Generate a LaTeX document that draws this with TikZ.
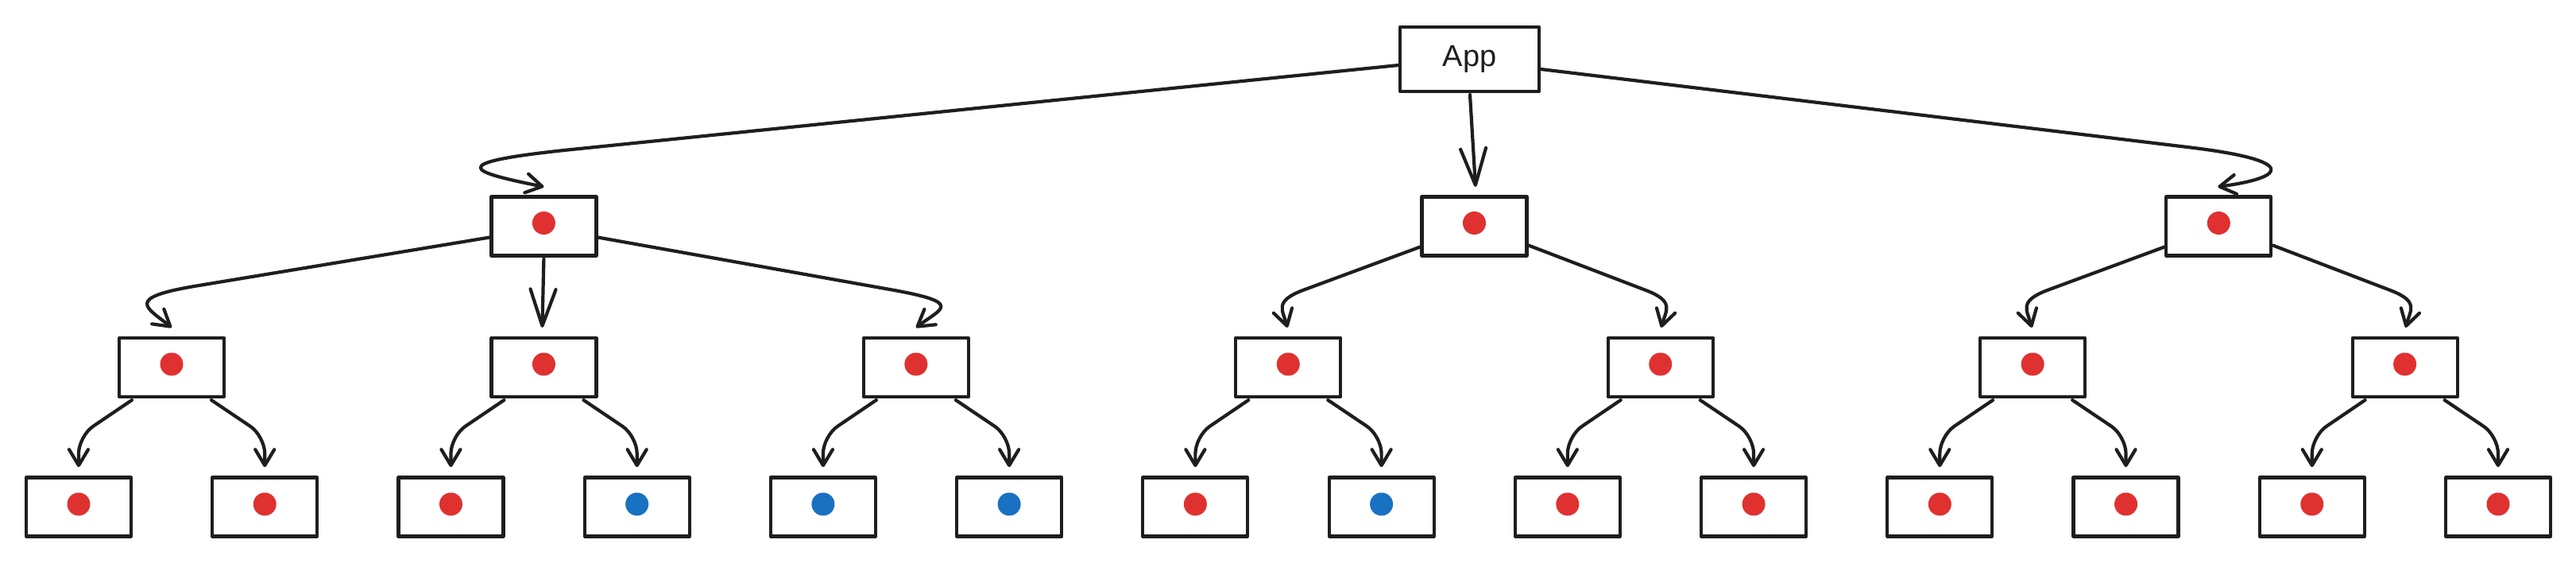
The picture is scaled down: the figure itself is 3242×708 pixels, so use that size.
\documentclass[tikz,border=0pt]{standalone}
\usepackage{fontspec}
\setmainfont{Liberation Sans}
\usetikzlibrary{arrows.meta,calc}
\definecolor{ink}{HTML}{1E1E1E}
\definecolor{dotred}{HTML}{E03131}
\definecolor{dotblue}{HTML}{1971C2}
\tikzset{
  box/.style={draw=ink, line width=4.2pt, fill=white, minimum width=132pt, minimum height=74pt, inner sep=0pt, line join=round},
  appbox/.style={box, minimum width=175pt, minimum height=81pt, font=\fontsize{38}{44}\selectfont, text=ink},
  conn/.style={draw=ink, line width=4.2pt, line cap=round, line join=round},
  arrS/.style={conn, -{Straight Barb[length=20pt, width=24pt, round]}},
  arrL/.style={conn, -{Straight Barb[length=46pt, width=32pt, round]}},
}
\begin{document}
\begin{tikzpicture}[x=1pt,y=-1pt]
\useasboundingbox (0,0) rectangle (3242,708);
% nodes
\node[appbox] (app) at (1849.5,74.5) {App};
\node[box] (l1a) at (684.4,284.5) {};
\node[box] (l1b) at (1855.5,284.5) {};
\node[box] (l1c) at (2792.3,284.5) {};
\foreach \i in {0,...,6} {
  \node[box] (l2-\i) at ({216+468.43*\i},462) {};
}
\foreach \i in {0,...,13} {
  \node[box] (l3-\i) at ({99+234.23*\i},637.5) {};
}
% dots
\foreach \n in {l1a,l1b,l1c,l2-0,l2-1,l2-2,l2-3,l2-4,l2-5,l2-6} {
  \fill[dotred] ($(\n.center)+(0,-4)$) circle[radius=14.5pt];
}
\foreach \i/\c in {0/dotred,1/dotred,2/dotred,3/dotblue,4/dotblue,5/dotblue,6/dotred,7/dotblue,8/dotred,9/dotred,10/dotred,11/dotred,12/dotred,13/dotred} {
  \fill[\c] ($(l3-\i.center)+(0,-3.5)$) circle[radius=14.5pt];
}
% App -> level 1
\draw[arrS] ($(app.west)+(0,7.5)$) -- ($(l1a.north)+(36,-57.5)$)
  .. controls +(-165,17) and +(-94,-19) .. ($(l1a.north)+(0,-10.5)$);
\draw[arrL] ($(app.south)+(0.5,2)$) -- ($(l1b.north)+(1.5,-10.5)$);
\draw[arrS] ($(app.east)+(0,12.5)$) -- ($(l1c.north)+(-32,-59.5)$)
  .. controls +(129,16) and +(89,-12) .. ($(l1c.north)+(-1,-10.5)$);
% level 1 -> level 2
\draw[arrS] ($(l1a.west)+(0,14)$) -- ($(l2-0.north)+(29,-63)$)
  .. controls +(-89,15) and +(-31,-25) .. ($(l2-0.north)+(0,-11)$);
\draw[arrL] ($(l1a.south)+(0,2)$) -- ($(l2-1.north)+(-2,-11)$);
\draw[arrS] ($(l1a.east)+(0,14)$) -- ($(l2-2.north)+(-28,-58)$)
  .. controls +(88,16) and +(32,-24) .. ($(l2-2.north)+(0,-11)$);
\foreach \p/\a/\b in {l1b/3/4, l1c/5/6} {
  \draw[arrS] ($(\p.west)+(0,26)$) -- ($(l2-\a.north)+(18.7,-58)$)
    .. controls +(-37,14) and +(-6,-22) .. ($(l2-\a.north)+(-1,-11)$);
  \draw[arrS] ($(\p.east)+(0,24)$) -- ($(l2-\b.north)+(-18.7,-58)$)
    .. controls +(37,14) and +(6,-22) .. ($(l2-\b.north)+(1,-11)$);
}
% level 2 -> level 3
\foreach \i in {0,...,6} {
  \pgfmathtruncatemacro\lc{2*\i}
  \pgfmathtruncatemacro\rc{2*\i+1}
  \draw[arrS, rounded corners=22pt] ($(l2-\i.south)+(-50,2)$) -- ($(l3-\lc.north)+(0,-50)$) -- ($(l3-\lc.north)+(0,-11)$);
  \draw[arrS, rounded corners=22pt] ($(l2-\i.south)+(50,2)$) -- ($(l3-\rc.north)+(0,-50)$) -- ($(l3-\rc.north)+(0,-11)$);
}
\end{tikzpicture}
\end{document}
